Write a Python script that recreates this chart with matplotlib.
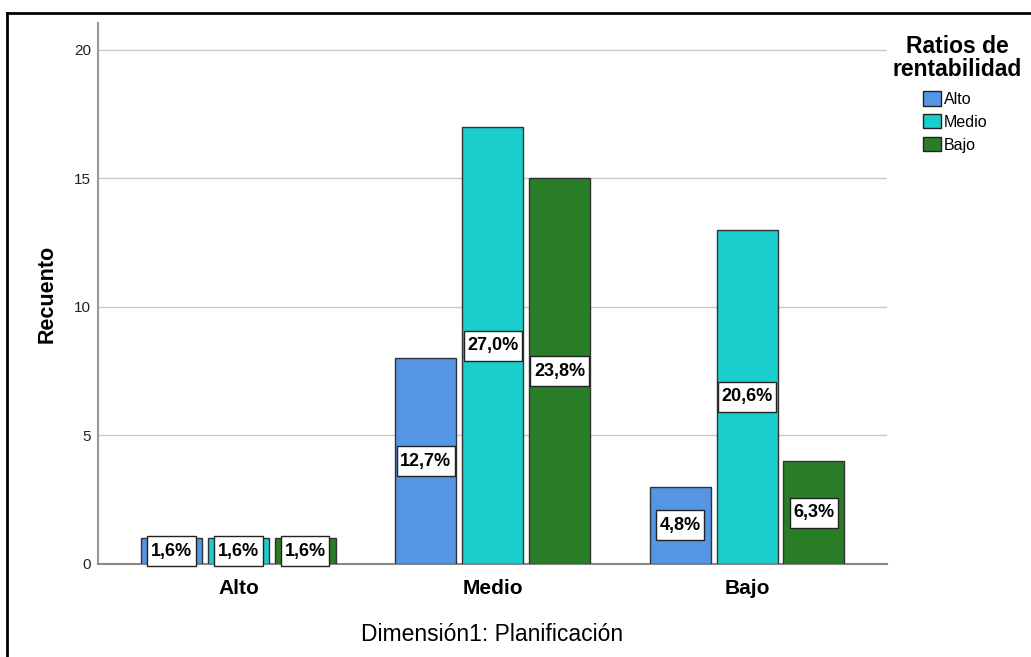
import numpy as np
import matplotlib
matplotlib.use("Agg")
import matplotlib.pyplot as plt
from matplotlib import font_manager
from matplotlib.patches import Patch
from matplotlib.lines import Line2D
from matplotlib.path import Path

plt.rcParams['font.family'] = ['Liberation Sans', 'DejaVu Sans']

categories = ['Alto', 'Medio', 'Bajo']
series = ['Alto', 'Medio', 'Bajo']
counts = {
    'Alto': [1, 8, 3],
    'Medio': [1, 17, 13],
    'Bajo': [1, 15, 4],
}
pct_labels = {
    'Alto': ['1,6%', '12,7%', '4,8%'],
    'Medio': ['1,6%', '27,0%', '20,6%'],
    'Bajo': ['1,6%', '23,8%', '6,3%'],
}
colors = {'Alto': '#5595e5', 'Medio': '#1bcdcc', 'Bajo': '#2a7d27'}

# narrow font for the value labels, if there is one
installed = {f.name for f in font_manager.fontManager.ttflist}
narrow = 'Liberation Sans'
for cand in ['Liberation Sans Narrow', 'DejaVu Sans Condensed']:
    if cand in installed:
        narrow = cand
        break


def label_box(x0, y0, width, height, mutation_size):
    # rectangle with less padding left/right than top/bottom
    px = 0.2 * mutation_size
    py = 0.36 * mutation_size
    x0, y0 = x0 - px, y0 - py
    x1, y1 = x0 + width + 2 * px, y0 + height + 2 * py
    return Path([(x0, y0), (x1, y0), (x1, y1), (x0, y1), (x0, y0)], closed=True)


fig = plt.figure(figsize=(10.31, 6.57), dpi=100)
ax = fig.add_axes([0.0951, 0.1416, 0.7652, 0.8234])

x = np.arange(len(categories))
width = 0.24
pitch = 0.263
for i, s in enumerate(series):
    xs = x + (i - 1) * pitch
    vals = counts[s]
    ax.bar(xs, vals, width=width, color=colors[s], edgecolor='#333333',
           linewidth=1.0, zorder=3)
    for xi, v, lab in zip(xs, vals, pct_labels[s]):
        ax.text(xi, v / 2, lab, ha='center', va='center', fontsize=13,
                fontweight='bold', color='black', zorder=5, family=narrow,
                bbox=dict(boxstyle=label_box, facecolor='white',
                          edgecolor='#222222', linewidth=1.0))

ax.set_xlim(-0.552, 2.55)
ax.set_ylim(0, 21.05)
ax.set_yticks([0, 5, 10, 15, 20])
ax.set_xticks(x)
ax.set_xticklabels(categories, fontsize=15, fontweight='bold')
ax.tick_params(axis='y', length=0, labelsize=11, pad=5, labelcolor='#222222')
ax.tick_params(axis='x', length=0, pad=11)
ax.yaxis.grid(True, color='#c8c8c8', linewidth=1.0, zorder=0)
ax.set_axisbelow(True)
for side in ['top', 'right']:
    ax.spines[side].set_visible(False)
ax.spines['left'].set_color('#999999')
ax.spines['bottom'].set_color('#888888')
ax.spines['left'].set_linewidth(1.5)
ax.spines['bottom'].set_linewidth(1.5)

ax.set_ylabel('Recuento', fontsize=15.5, fontweight='bold', labelpad=12)
ax.set_xlabel('Dimensión1: Planificación', fontsize=16.5, labelpad=18)

handles = [Patch(facecolor=colors[s], edgecolor='#222222', linewidth=1.0, label=s)
           for s in series]
leg = fig.legend(handles=handles, loc='upper left', bbox_to_anchor=(0.895, 0.861),
                 frameon=False, fontsize=11.5, handlelength=1.15, handleheight=1.0,
                 handletextpad=0.15, labelspacing=0.45, borderpad=0, borderaxespad=0)
fig.text(0.9285, 0.946, 'Ratios de\nrentabilidad', ha='center', va='top',
         fontsize=16.5, fontweight='bold', linespacing=0.95)

# outer frame (left and top edges)
fig.add_artist(Line2D([0.0068, 0.0068], [0, 0.98], transform=fig.transFigure,
                      color='black', linewidth=2))
fig.add_artist(Line2D([0.0068, 1.0], [0.98, 0.98], transform=fig.transFigure,
                      color='black', linewidth=2))

fig.savefig('out.png', dpi=100)
